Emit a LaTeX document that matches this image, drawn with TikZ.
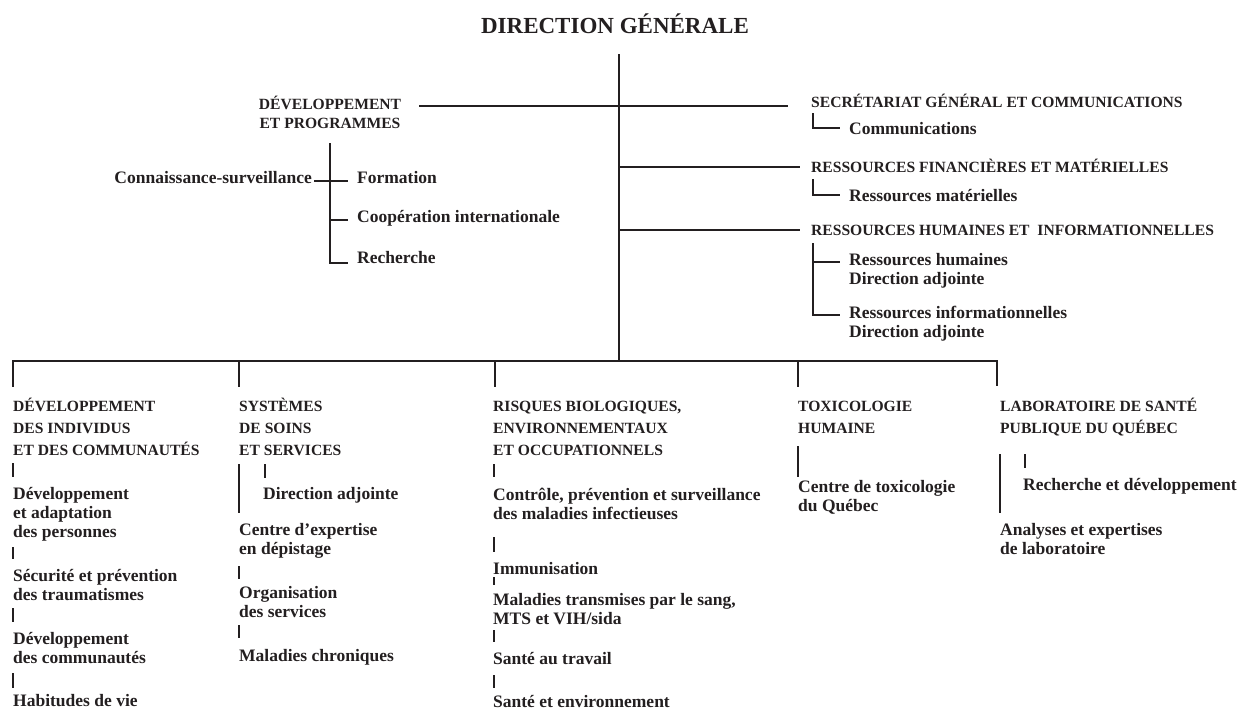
\documentclass[tikz,border=0pt]{standalone}
\usepackage{fontspec}
\setmainfont{Liberation Serif}
\definecolor{ink}{HTML}{231F20}

\begin{document}
\begin{tikzpicture}[x=1pt,y=-1pt]
  \tikzset{title/.style={font=\bfseries\fontsize{23}{26}\selectfont,inner sep=0pt,text=ink,anchor=base},
           head/.style={font=\bfseries\fontsize{15.6}{22}\selectfont,inner sep=0pt,text=ink,align=left,anchor=base west},
           unit/.style={font=\bfseries\fontsize{17.5}{19}\selectfont,inner sep=0pt,text=ink,align=left,anchor=base west},
           link/.style={draw=ink,line width=1.6pt}}
  \useasboundingbox (0,0) rectangle (1247,710);

  \node [title] (dg) at (615,33) {DIRECTION GÉNÉRALE};

  % top left (multi-line nodes sit on their last baseline)
  \node [head,align=center,anchor=base,font=\bfseries\fontsize{15.6}{19}\selectfont] (devprog) at (330,128) {DÉVELOPPEMENT\\ET PROGRAMMES};
  \node [unit,anchor=base east] (connsurv) at (312,183) {Connaissance-surveillance};
  \node [unit] (formation) at (357,183) {Formation};
  \node [unit] (coop) at (357,222) {Coopération internationale};
  \node [unit] (rech) at (357,263) {Recherche};

  % top right
  \node [head] (sgc) at (811,107) {SECRÉTARIAT GÉNÉRAL ET COMMUNICATIONS};
  \node [unit] (comm) at (849,134) {Communications};
  \node [head] (rfm) at (811,172) {RESSOURCES FINANCIÈRES ET MATÉRIELLES};
  \node [unit] (rmat) at (849,201) {Ressources matérielles};
  \node [head] (rhi) at (811,235) {RESSOURCES HUMAINES ET \ INFORMATIONNELLES};
  \node [unit] (rhum) at (849,284) {Ressources humaines\\Direction adjointe};
  \node [unit] (rinfo) at (849,337) {Ressources informationnelles\\Direction adjointe};

  % columns
  \node [head] (dind) at (13,455) {DÉVELOPPEMENT\\DES INDIVIDUS\\ET DES COMMUNAUTÉS};
  \node [unit] (dadapt) at (13,537) {Développement\\et adaptation\\des personnes};
  \node [unit] (secur) at (13,600) {Sécurité et prévention\\des traumatismes};
  \node [unit] (dcomm) at (13,663) {Développement\\des communautés};
  \node [unit] (habit) at (13,706) {Habitudes de vie};

  \node [head] (sss) at (239,455) {SYSTÈMES\\DE SOINS\\ET SERVICES};
  \node [unit] (ssda) at (263,499) {Direction adjointe};
  \node [unit] (cedep) at (239,554) {Centre d’expertise\\en dépistage};
  \node [unit] (orgserv) at (239,617) {Organisation\\des services};
  \node [unit] (malchron) at (239,661) {Maladies chroniques};

  \node [head] (rbeo) at (493,455) {RISQUES BIOLOGIQUES,\\ENVIRONNEMENTAUX\\ET OCCUPATIONNELS};
  \node [unit] (cpsmi) at (493,519) {Contrôle, prévention et surveillance\\des maladies infectieuses};
  \node [unit] (immun) at (493,574) {Immunisation};
  \node [unit] (mts) at (493,624) {Maladies transmises par le sang,\\MTS et VIH/sida};
  \node [unit] (santrav) at (493,664) {Santé au travail};
  \node [unit] (santenv) at (493,707) {Santé et environnement};

  \node [head] (toxh) at (798,433) {TOXICOLOGIE\\HUMAINE};
  \node [unit] (ctq) at (798,511) {Centre de toxicologie\\du Québec};

  \node [head] (lspq) at (1000,433) {LABORATOIRE DE SANTÉ\\PUBLIQUE DU QUÉBEC};
  \node [unit] (rdev) at (1023,490) {Recherche et développement};
  \node [unit] (anexp) at (1000,554) {Analyses et expertises\\de laboratoire};

  % spine and branches
  \coordinate (top) at (619,54);
  \coordinate (bus) at (619,361);
  \draw [link] (top) -- (bus);
  \draw [link] (419,106) -- (788,106);
  \draw [link] (top |- 0,167) -- (800,167);
  \draw [link] (top |- 0,230) -- (800,230);

  \draw [link] (813,113) |- ([xshift=-9pt]comm.west);
  \draw [link] (813,179) |- ([xshift=-9pt]rmat.west);
  \draw [link] (813,243) |- (840,315);
  \draw [link] (813,262) -- (840,262);

  \draw [link] (330,143) |- (348,263);
  \draw [link] (330,220) -- (348,220);
  \draw [link] (314,181) -- (348,181);

  % bottom bus
  \draw [link] (12,361) -- (997,361) -- (997,386);
  \foreach \x in {13,239,495,798}
    \draw [link] (\x,361) -- (\x,387);

  \draw [link] (13,463) -- (13,477);
  \draw [link] (13,547) -- (13,559);
  \draw [link] (13,608) -- (13,622);
  \draw [link] (13,673) -- (13,688);

  \draw [link] (239,464) -- (239,513);
  \draw [link] (265,464) -- (265,478);
  \draw [link] (239,566) -- (239,579);
  \draw [link] (239,625) -- (239,638);

  \draw [link] (494,464) -- (494,477);
  \draw [link] (494,537) -- (494,552);
  \draw [link] (494,577) -- (494,585);
  \draw [link] (494,630) -- (494,642);
  \draw [link] (494,675) -- (494,688);

  \draw [link] (798,446) -- (798,477);

  \draw [link] (1000,454) -- (1000,513);
  \draw [link] (1025,454) -- (1025,468);
\end{tikzpicture}
\end{document}
